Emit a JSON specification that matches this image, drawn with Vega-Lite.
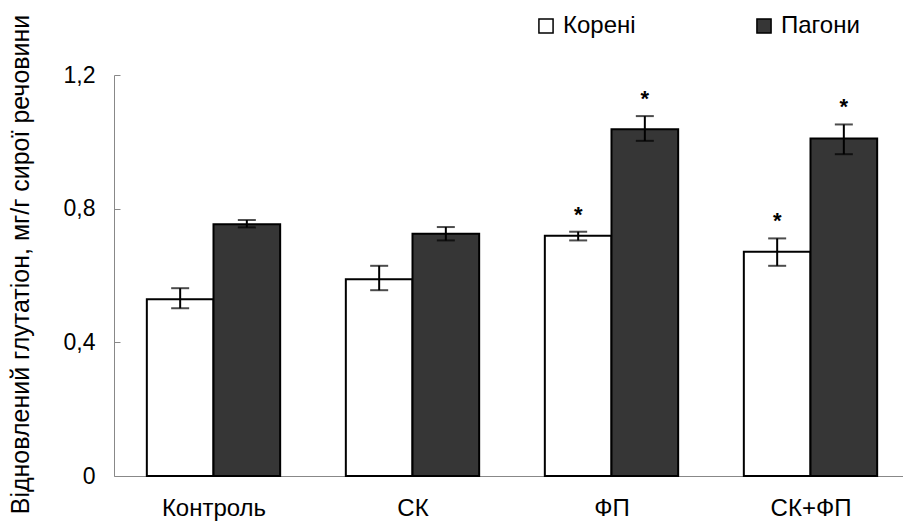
{
  "$schema": "https://vega.github.io/schema/vega-lite/v6.json",
  "autosize": {"type": "none"},
  "padding": {"left": 114, "top": 75, "right": 0, "bottom": 49},
  "width": 796,
  "height": 401,
  "background": "white",
  "config": {
    "view": {"stroke": null},
    "font": "Liberation Sans",
    "axis": {"grid": false, "labelColor": "black", "titleColor": "black", "labelFont": "Liberation Sans", "titleFont": "Liberation Sans"}
  },
  "data": {
    "values": [
      {"group": "Контроль", "organ": "Корені", "value": 0.529, "lo": 0.502, "hi": 0.562, "sig": false},
      {"group": "Контроль", "organ": "Пагони", "value": 0.753, "lo": 0.744, "hi": 0.766, "sig": false},
      {"group": "СК", "organ": "Корені", "value": 0.589, "lo": 0.556, "hi": 0.629, "sig": false},
      {"group": "СК", "organ": "Пагони", "value": 0.725, "lo": 0.705, "hi": 0.745, "sig": false},
      {"group": "ФП", "organ": "Корені", "value": 0.719, "lo": 0.705, "hi": 0.731, "sig": true},
      {"group": "ФП", "organ": "Пагони", "value": 1.038, "lo": 1.003, "hi": 1.077, "sig": true},
      {"group": "СК+ФП", "organ": "Корені", "value": 0.671, "lo": 0.629, "hi": 0.711, "sig": true},
      {"group": "СК+ФП", "organ": "Пагони", "value": 1.010, "lo": 0.963, "hi": 1.052, "sig": true}
    ]
  },
  "encoding": {
    "x": {
      "field": "group", "type": "nominal",
      "sort": ["Контроль", "СК", "ФП", "СК+ФП"],
      "scale": {"paddingInner": 0.33, "paddingOuter": 0.165},
      "axis": {
        "title": null, "labelAngle": 0, "labelFontSize": 24, "labelPadding": 26,
        "domainColor": "#888888", "tickColor": "#888888", "tickSize": -6, "tickBand": "extent"
      }
    },
    "xOffset": {"field": "organ", "type": "nominal", "sort": ["Корені", "Пагони"], "scale": {"paddingInner": 0, "paddingOuter": 0}}
  },
  "layer": [
    {
      "mark": {"type": "bar", "stroke": "black", "strokeWidth": 2},
      "encoding": {
        "y": {
          "field": "value", "type": "quantitative",
          "scale": {"domain": [0, 1.2], "nice": false},
          "axis": {
            "title": "Відновлений глутатіон, мг/г сирої речовини",
            "titleFontSize": 25, "titleFontWeight": "normal",
            "titleX": -94, "titleY": 189, "titleBaseline": "middle", "titleAngle": -90,
            "values": [0, 0.4, 0.8, 1.2],
            "labelExpr": "datum.value == 0 ? '0' : replace(format(datum.value, '.1f'), '.', ',')",
            "labelFontSize": 23, "labelPadding": 25,
            "domainColor": "#888888", "tickColor": "#888888", "tickSize": -6
          }
        },
        "color": {
          "field": "organ", "type": "nominal",
          "sort": ["Корені", "Пагони"],
          "scale": {"range": ["#ffffff", "#363636"]},
          "legend": {
            "title": null, "orient": "none", "legendX": 420, "legendY": -61,
            "direction": "horizontal", "columnPadding": 116,
            "symbolType": "square", "symbolSize": 200, "symbolStrokeColor": "black", "symbolStrokeWidth": 1.5,
            "labelFontSize": 24, "labelOffset": 5, "labelColor": "black", "padding": 0
          }
        }
      }
    },
    {
      "mark": {"type": "rule", "color": "black", "strokeWidth": 2},
      "encoding": {
        "y": {"field": "lo", "type": "quantitative"},
        "y2": {"field": "hi"}
      }
    },
    {
      "mark": {"type": "tick", "color": "black", "thickness": 2, "size": 18, "orient": "horizontal"},
      "encoding": {"y": {"field": "lo", "type": "quantitative"}}
    },
    {
      "mark": {"type": "tick", "color": "black", "thickness": 2, "size": 18, "orient": "horizontal"},
      "encoding": {"y": {"field": "hi", "type": "quantitative"}}
    },
    {
      "transform": [{"filter": "datum.sig"}],
      "mark": {"type": "text", "text": "*", "fontSize": 22, "fontWeight": "bold", "baseline": "alphabetic", "dy": -10, "color": "black"},
      "encoding": {"y": {"field": "hi", "type": "quantitative"}}
    }
  ]
}
